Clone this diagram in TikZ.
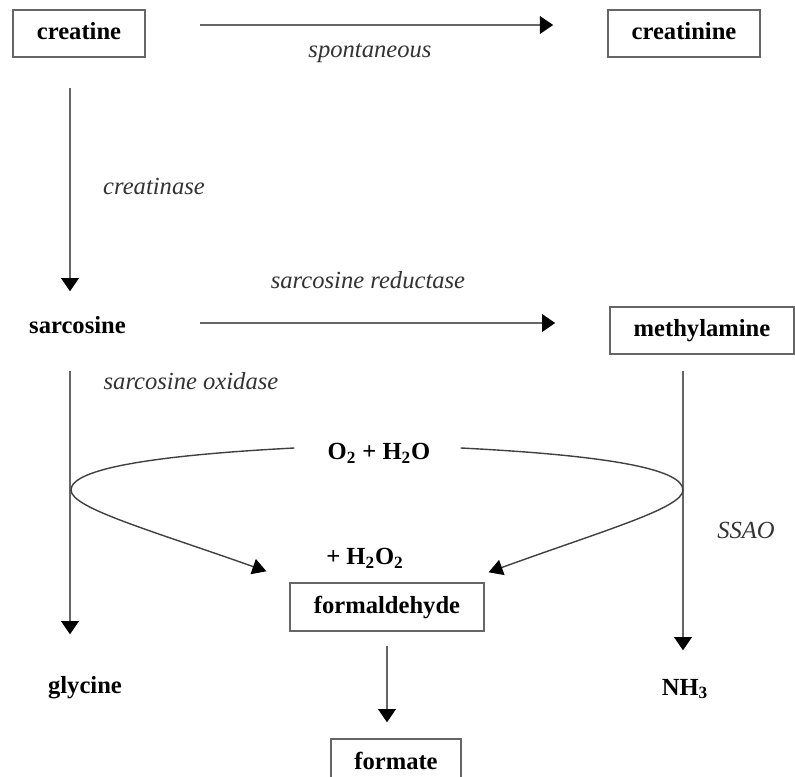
\documentclass[tikz,border=0pt]{standalone}
\usepackage{fontspec}
\setmainfont{Liberation Serif}
\usetikzlibrary{arrows.meta,positioning,calc}

\begin{document}
\begin{tikzpicture}[
    every node/.style={font=\fontsize{14}{16}\selectfont},
    cmpd/.style={rectangle, draw=black!60, line width=1.1pt, font=\fontsize{14}{16}\selectfont\bfseries, inner xsep=0.47cm, inner ysep=7pt, text height=10pt, text depth=3pt},
    prod/.style={cmpd, draw=none},
    enz/.style={font=\fontsize{14}{16}\selectfont\itshape, text=black!80},
    reag/.style={font=\fontsize{14}{16}\selectfont\bfseries, inner sep=0pt},
    arr/.style={-{Triangle[length=7.5pt,width=10pt,color=black]}, draw=black!60, line width=1.1pt},
    carr/.style={-{Triangle[length=8pt,width=9pt,color=black]}, draw=black!75, line width=0.8pt}
]
    \useasboundingbox (0,0) rectangle (15.9,-15.54);

    % compounds
    \node[cmpd] (creatine) at (1.58,-0.67) {creatine};
    \node[cmpd] (creatinine) at (13.68,-0.67) {creatinine};
    \node[prod] (sarcosine) at (1.55,-6.54) {sarcosine};
    \node[cmpd] (methylamine) at (14.04,-6.61) {methylamine};
    \node[reag] (o2) at (7.58,-9.06) {O\textsubscript{2} + H\textsubscript{2}O};
    \node[reag] (h2o2) at (7.3,-11.16) {+ H\textsubscript{2}O\textsubscript{2}};
    \node[cmpd] (fald) at (7.74,-12.14) {formaldehyde};
    \node[cmpd] (formate) at (7.92,-15.26) {formate};
    \node[prod] (glycine) at (1.7,-13.74) {glycine};
    \node[prod] (nh3) at (13.7,-13.78) {NH\textsubscript{3}};

    % enzymes
    \node[enz] (spont) at (7.4,-1.06) {spontaneous};
    \node[enz] (creatinase) at (3.08,-3.72) {creatinase};
    \node[enz] (sred) at (7.36,-5.6) {sarcosine reductase};
    \node[enz] (sox) at (3.82,-7.62) {sarcosine oxidase};
    \node[enz] (ssao) at (14.92,-10.6) {SSAO};

    \coordinate (colL) at (1.4,0);
    \coordinate (colR) at (13.66,0);
    \coordinate (vl) at (1.42,-9.8);
    \coordinate (vr) at (13.66,-9.8);
    \coordinate (sr) at ([yshift=0.08cm]sarcosine.east);

    \draw[arr, shorten <=1.09cm, shorten >=1.08cm] ([yshift=0.17cm]creatine.east) -- ([yshift=0.17cm]creatinine.west);
    \draw[arr, shorten <=0.6cm, shorten >=0.22cm] (creatine.south -| colL) -- (sarcosine.north -| colL);
    \draw[arr, shorten <=1.0cm, shorten >=1.08cm] (sr) -- (sr -| methylamine.west);
    \draw[arr, shorten <=0.38cm, shorten >=0.56cm] (sarcosine.south -| colL) -- (glycine.north -| colL);
    \draw[arr, shorten <=0.32cm, shorten >=0.28cm] (methylamine.south -| colR) -- (nh3.north -| colR);
    \draw[arr, shorten <=0.28cm, shorten >=0.32cm] (fald.south) -- (fald.south |- formate.north);

    % side branches to formaldehyde
    \draw[carr] ([xshift=-0.66cm,yshift=0.1cm]o2.west) .. controls (3.2,-9.1) and (1.42,-9.36) .. (vl)
        .. controls (1.42,-10.16) and (3.0,-10.6) .. ([xshift=-0.46cm,yshift=0.22cm]fald.north west);
    \draw[carr] ([xshift=0.6cm,yshift=0.1cm]o2.east) .. controls (12.0,-9.1) and (13.66,-9.36) .. (vr)
        .. controls (13.66,-10.16) and (12.1,-10.6) .. ([xshift=0.08cm,yshift=0.2cm]fald.north east);
\end{tikzpicture}
\end{document}
